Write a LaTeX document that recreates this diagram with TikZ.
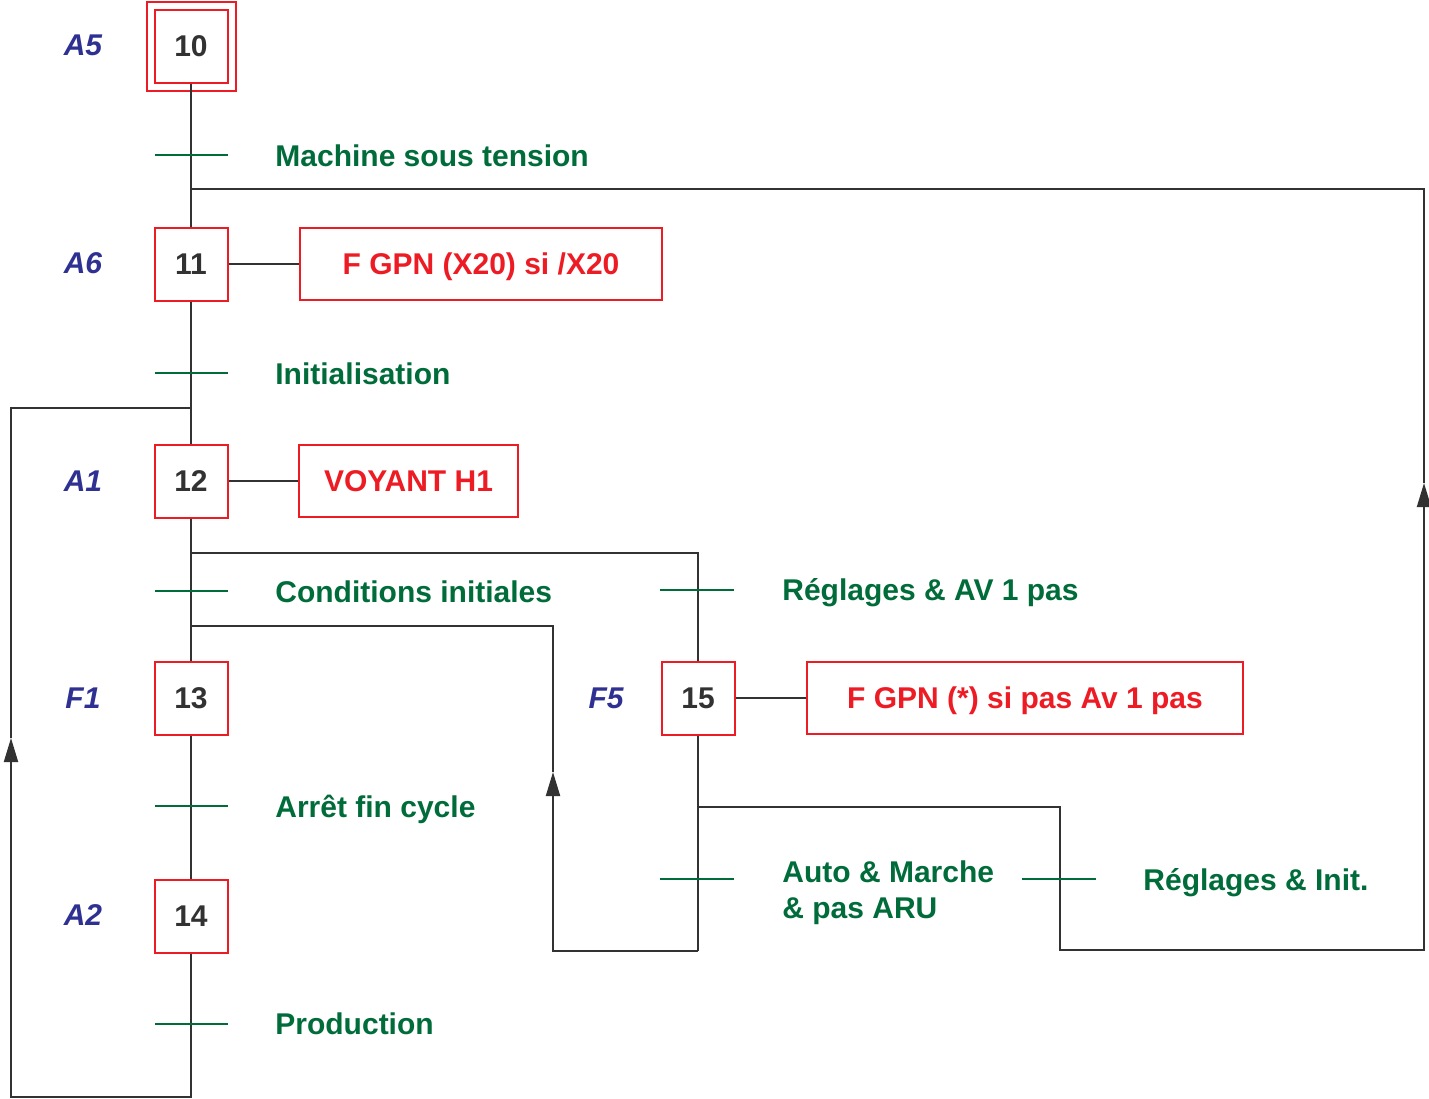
\documentclass[tikz,border=0pt]{standalone}
\usepackage{fontspec}
\setmainfont{Liberation Sans}
\usetikzlibrary{arrows.meta}
\definecolor{rouge}{RGB}{237,28,36}
\definecolor{vert}{RGB}{0,108,58}
\definecolor{bleu}{RGB}{46,49,146}
\definecolor{trait}{RGB}{50,50,50}

\begin{document}
\begin{tikzpicture}[x=0.5pt, y=-0.5pt,
  etape/.style={draw=rouge, line width=1pt, minimum size=36.5pt, inner sep=0pt, text=trait, font=\bfseries\fontsize{15}{18}\selectfont},
  action/.style={draw=rouge, line width=1pt, minimum height=36pt, inner sep=0pt, text height=10.8pt, text depth=0pt, text=rouge, font=\bfseries\fontsize{15}{18}\selectfont},
  repere/.style={anchor=base, inner sep=0pt, text=bleu, font=\bfseries\itshape\fontsize{15}{18}\selectfont},
  recept/.style={anchor=base west, inner sep=0pt, text=vert, align=left, font=\bfseries\fontsize{15}{18}\selectfont},
  barre/.style={draw=vert, line width=1pt},
  lien/.style={draw=trait, line width=1pt},
  fleche/.style={lien, -{Triangle[length=12pt, width=7pt]}}]
\useasboundingbox (0,0) rectangle (1429,1098);
% Etapes
\node[etape] (e10) at (191,46) {10};
\draw[rouge, line width=1pt] ([shift={(-7,-7)}]e10.north west) rectangle ([shift={(7,7)}]e10.south east);
\node[etape] (e11) at (191,264) {11};
\node[etape] (e12) at (191,481) {12};
\node[etape] (e13) at (191,698) {13};
\node[etape] (e14) at (191,916) {14};
\node[etape] (e15) at (698,698) {15};
% Reperes
\node[repere] (r10) at (83,55) {A5};
\node[repere] (r11) at (83,273) {A6};
\node[repere] (r12) at (83,491) {A1};
\node[repere] (r13) at (83,708) {F1};
\node[repere] (r14) at (83,925) {A2};
\node[repere] (r15) at (606,708) {F5};
% Actions
\node[action, minimum width=181pt] (a11) at (481,264) {F GPN (X20) si /X20};
\node[action, minimum width=109.5pt] (a12) at (408.5,481) {VOYANT H1};
\node[action, minimum width=218pt] (a15) at (1025,698) {F GPN (*) si pas Av 1 pas};
\draw[lien] (e11) -- (a11);
\draw[lien] (e12) -- (a12);
\draw[lien] (e15) -- (a15);
% Points de liaison
\coordinate (v11) at (191,189);
\coordinate (u11) at (1424,189);
\coordinate (t11) at (1424,483);
\coordinate (j12) at (191,408);
\coordinate (h12) at (11,408);
\coordinate (g12) at (11,738);
\coordinate (g14) at (11,1097);
\coordinate (b14) at (191,1097);
\coordinate (k15) at (191,553);
\coordinate (l15) at (698,553);
\coordinate (k13) at (191,626);
\coordinate (l13) at (553,626);
\coordinate (m13) at (553,772);
\coordinate (n13) at (553,951);
\coordinate (o13) at (698,951);
\coordinate (p15) at (698,807);
\coordinate (q15) at (1060,807);
\coordinate (r15) at (1060,950);
\coordinate (s15) at (1424,950);
% Liaisons
\draw[lien] (e10) -- (e11);
\draw[lien] (e11) -- (e12);
\draw[lien] (e12) -- (e13);
\draw[lien] (e13) -- (e14);
\draw[lien] (k15) -- (l15) -- (e15.north);
\draw[lien] (e15.south) -- (o13);
\draw[fleche] (e14.south) -- (b14) -- (g14) -- (g12);
\draw[lien] (g12) -- (h12) -- (j12);
\draw[fleche] (o13) -- (n13) -- (m13);
\draw[lien] (m13) -- (l13) -- (k13);
\draw[fleche] (p15) -- (q15) -- (r15) -- (s15) -- (t11);
\draw[lien] (t11) -- (u11) -- (v11);
% Transitions
\draw[barre] (155,155) -- (228,155);
\draw[barre] (155,373) -- (228,373);
\draw[barre] (155,591) -- (228,591);
\draw[barre] (155,806) -- (228,806);
\draw[barre] (155,1024) -- (228,1024);
\draw[barre] (660,590) -- (734,590);
\draw[barre] (660,879) -- (734,879);
\draw[barre] (1022,879) -- (1096,879);
\node[recept] (c10) at (275,166) {Machine sous tension};
\node[recept] (c11) at (275,384) {Initialisation};
\node[recept] (c12) at (275,602) {Conditions initiales};
\node[recept] (c13) at (275,817) {Arrêt fin cycle};
\node[recept] (c14) at (275,1034) {Production};
\node[recept] (c15) at (782,600) {Réglages \& AV 1 pas};
\node[recept] (c16) at (782,918) {Auto \& Marche\\\& pas ARU};
\node[recept] (c17) at (1143,890) {Réglages \& Init.};
\end{tikzpicture}
\end{document}
